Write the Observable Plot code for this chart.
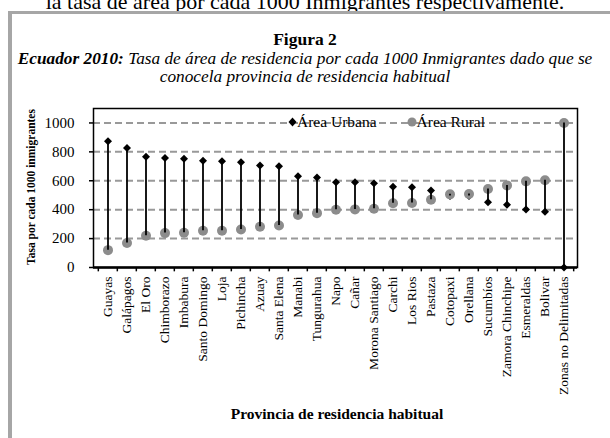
<!DOCTYPE html>
<html><head><meta charset="utf-8">
<script src="https://cdn.jsdelivr.net/npm/d3@7"></script>
<script src="https://cdn.jsdelivr.net/npm/@observablehq/plot@0.6"></script>
<style>
body{margin:0;background:#fff;width:610px;height:438px;overflow:hidden;position:relative;font-family:"Liberation Serif","Times New Roman",serif;color:#000;}
#top{position:absolute;left:0;width:610px;top:-9px;line-height:22px;text-align:center;font-size:22px;white-space:nowrap;}
#box{position:absolute;left:8px;top:11px;width:700px;height:500px;border-left:4px solid #a6a6a6;border-top:3px solid #a6a6a6;}
#chart{position:absolute;left:0;top:0;}
#chart svg, #chart svg text{font-family:"Liberation Serif","Times New Roman",serif !important;}
.t{position:absolute;left:0;width:610px;text-align:center;white-space:nowrap;line-height:18px;}
#ylab{position:absolute;left:31px;top:187px;transform:translate(-50%,-50%) rotate(-90deg);font-weight:bold;font-size:11.5px;white-space:nowrap;}
#legend{position:absolute;left:288px;top:113px;font-size:15.5px;white-space:nowrap;display:flex;align-items:center;}
#legend span{display:inline-flex;align-items:center;}
</style></head>
<body>
<div id="top">la tasa de área por cada 1000 Inmigrantes respectivamente.</div>
<div id="box"></div>
<div id="chart"></div>
<div class="t" style="top:30px;font-size:17.5px;font-weight:bold;">Figura 2</div>
<div class="t" style="top:50px;font-size:17.3px;font-style:italic;"><b>Ecuador 2010:</b> Tasa de área de residencia por cada 1000 Inmigrantes dado que se</div>
<div class="t" style="top:68px;font-size:17.3px;font-style:italic;">conocela provincia de residencia habitual</div>
<div id="ylab">Tasa por cada 1000 inmigrantes</div>
<div class="t" style="top:405px;left:32px;font-size:15.5px;font-weight:bold;">Provincia de residencia habitual</div>
<div id="legend">
<span><svg width="9" height="10"><path d="M4.5 0.5L8.5 5L4.5 9.5L0.5 5Z" fill="#000"/></svg>Área Urbana</span>
<span style="margin-left:30px"><svg width="10" height="10"><circle cx="5" cy="5" r="4.5" fill="#8c8c8c"/></svg>Área Rural</span>
</div>
<script>
const provincias = ["Guayas","Galápagos","El Oro","Chimborazo","Imbabura","Santo Domingo","Loja","Pichincha","Azuay","Santa Elena","Manabi","Tungurahua","Napo","Cañar","Morona Santiago","Carchi","Los Rios","Pastaza","Cotopaxi","Orellana","Sucumbíos","Zamora Chinchipe","Esmeraldas","Bolivar","Zonas no Delimitadas"];
const urbana = [873,827,767,758,753,738,735,728,705,700,631,622,589,589,582,559,555,532,494,495,451,434,402,386,0];
const rural  = [120,169,220,238,240,254,254,263,282,291,363,376,400,402,407,444,446,469,506,508,543,568,596,603,1000];
const yTicks = [0,200,400,600,800,1000];

const data = provincias.map((p,i)=>({p, u: urbana[i], r: rural[i]}));
const W = 610, H = 438, mL = 93, mR = 33, mT = 108, mB = 171;
const bw = (W - mL - mR) / provincias.length;
const serif = "Liberation Serif, Times New Roman, serif";

const chart = Plot.plot({
  width: W, height: H,
  marginLeft: mL, marginRight: mR, marginTop: mT, marginBottom: mB,
  x: {type: "band", domain: provincias, padding: 0, label: null},
  y: {domain: [0, 1100], label: null},
  style: {background: "transparent", color: "#000", fontFamily: serif},
  marks: [
    Plot.ruleY(yTicks.filter(d => d > 0), {stroke: "#999", strokeWidth: 2, strokeDasharray: "7,4"}),
    Plot.frame({stroke: "#000", strokeWidth: 1.5}),
    Plot.ruleY([0], {stroke: "#000", strokeWidth: 2.5}),
    Plot.axisY({ticks: yTicks, tickFormat: d => String(d), tickSize: 4, tickPadding: 15, fontSize: 15, fontFamily: serif, label: null, strokeWidth: 1.5}),
    Plot.axisX({tickSize: 0, tickRotate: -90, tickPadding: 9, fontSize: 13.5, fontFamily: serif, label: null}),
    Plot.ruleX(provincias, {x: d => d, dx: -bw/2, y1: 0, y2: -30, stroke: "#000", strokeWidth: 1.5}),
    Plot.ruleX(provincias.slice(-1), {x: d => d, dx: bw/2, y1: 0, y2: -30, stroke: "#000", strokeWidth: 1.5}),
    Plot.dot(data, {x: "p", y: "u", symbol: "diamond2", r: 3.6, fill: "#000", stroke: "none"}),
    Plot.dot(data, {x: "p", y: "r", r: 5, fill: "#8c8c8c", stroke: "none"}),
    Plot.ruleX(data, {x: "p", y1: "u", y2: "r", stroke: "#000", strokeWidth: 1.8})
  ]
});
document.getElementById("chart").appendChild(chart);
</script>
</body></html>
